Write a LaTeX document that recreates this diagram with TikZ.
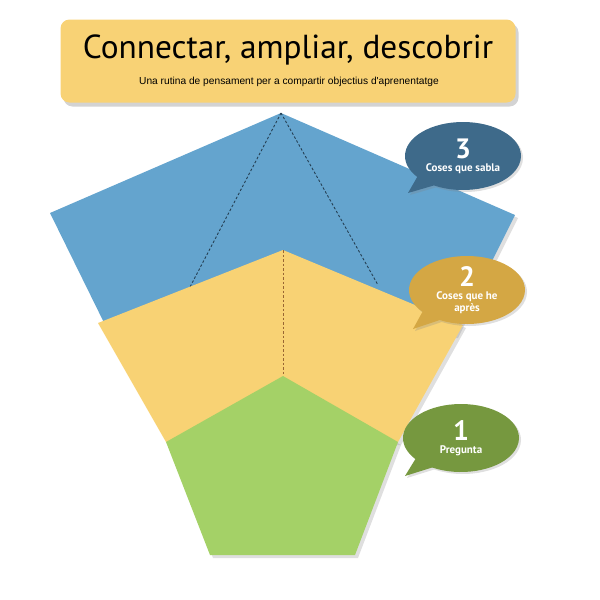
\documentclass[tikz,border=0pt]{standalone}
\usepackage{fontspec}
\setmainfont{PT Sans}
\newfontfamily\subtitlefont{Liberation Sans}
\usetikzlibrary{shadows,shapes.callouts}

\definecolor{titleyellow}{HTML}{F8D275}
\definecolor{knewblue}{HTML}{64A4CE}
\definecolor{learnyellow}{HTML}{F8D274}
\definecolor{askgreen}{HTML}{A4D167}
\definecolor{bubbleblue}{HTML}{3E6A8A}
\definecolor{bubblegold}{HTML}{D4A744}
\definecolor{bubblegreen}{HTML}{76983F}

\tikzset{
  face/.style={drop shadow={shadow xshift=3pt,shadow yshift=-3pt,opacity=0.25}},
  fold/.style={line width=0.9pt,dash pattern=on 2.5pt off 2pt},
  bubble/.style={ellipse callout,text=white,align=center,font=\bfseries,
    minimum width=116pt,minimum height=68pt,inner sep=0pt,
    callout pointer arc=22,
    drop shadow={shadow xshift=2pt,shadow yshift=-2pt,opacity=0.25}}
}

\begin{document}
\begin{tikzpicture}[x=1pt,y=-1pt]
\useasboundingbox (0,0) rectangle (600,600);

% title
\node[fill=titleyellow,rounded corners=9pt,minimum width=455pt,minimum height=83pt,
  drop shadow={shadow xshift=3pt,shadow yshift=-4pt,opacity=0.35}] (title) at (288,61) {};
\node[font=\fontsize{33.3}{34}\selectfont] (titletext) at (288,50) {Connectar, ampliar, descobrir};
\node[font=\subtitlefont\fontsize{10.2}{11}\selectfont] (subtitle) at (289,82)
  {Una rutina de pensament per a compartir objectius d'aprenentatge};

% 3 - blue
\fill[knewblue,face] (281,113) -- (515,215) -- (455,335) -- (115,345) -- (50,213) -- cycle;
\draw[fold,bubbleblue!60!black] (281,113) -- (190,287);
\draw[fold,bubbleblue!60!black] (281,113) -- (378,285);

% 2 - yellow
\fill[learnyellow,face] (283,250) -- (463,325) -- (398,442) -- (166,442) -- (98,323) -- cycle;
\draw[fold,brown!80!black] (283,250) -- (283,376);

% 1 - green
\fill[askgreen,face] (283,376) -- (398,442) -- (355,555) -- (210,555) -- (166,442) -- cycle;

% bubbles
\node[bubble,fill=bubbleblue,callout absolute pointer={(408,193)}] (b3) at (463,156)
  {{\fontsize{28}{28}\selectfont 3}\\[1pt]{\fontsize{11}{12}\selectfont Coses que sabla}};
\node[bubble,fill=bubblegold,callout absolute pointer={(413,329)}] (b2) at (467,290)
  {{\fontsize{28}{28}\selectfont 2}\\[1pt]{\fontsize{11}{11}\selectfont Coses que he}\\{\fontsize{11}{11}\selectfont après}};
\node[bubble,fill=bubblegreen,callout absolute pointer={(405,476)}] (b1) at (461,438)
  {{\fontsize{28}{28}\selectfont 1}\\[1pt]{\fontsize{11}{12}\selectfont Pregunta}};
\end{tikzpicture}
\end{document}
